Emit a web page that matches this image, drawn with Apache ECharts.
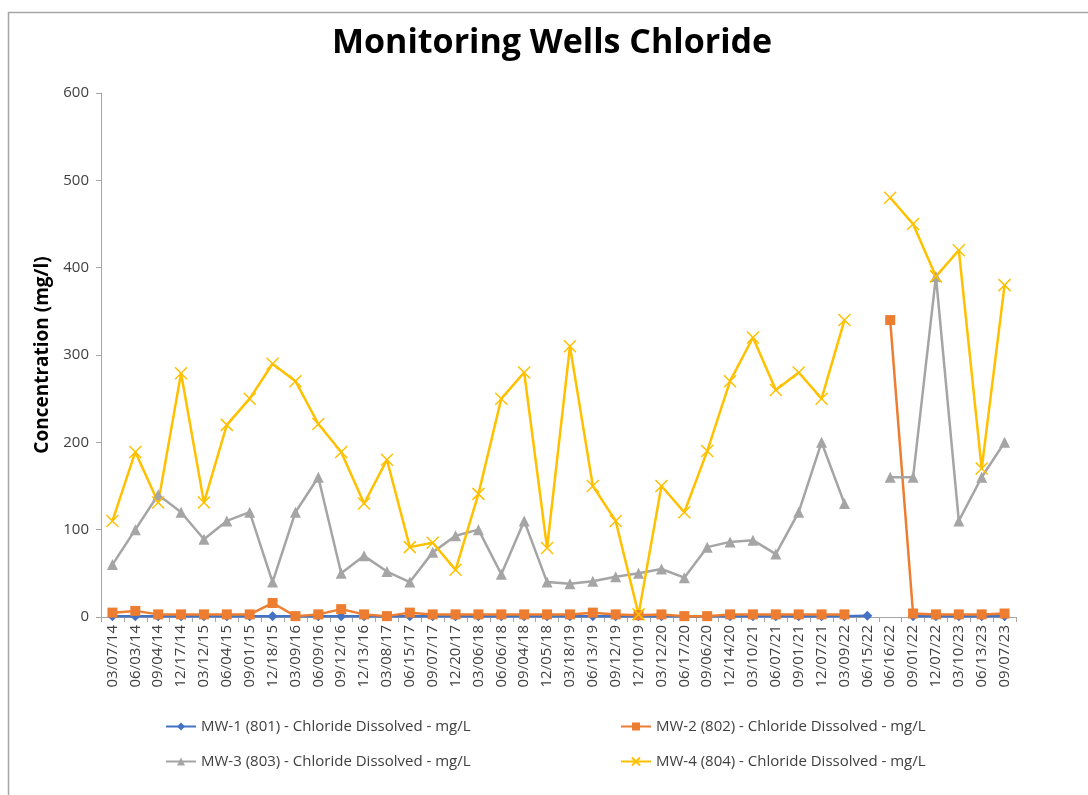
<!DOCTYPE html>
<html>
<head>
<meta charset="utf-8">
<script src="https://cdn.jsdelivr.net/npm/echarts@6/dist/echarts.min.js"></script>
<style>
html,body{margin:0;padding:0;background:#fff;}
#chart{width:1088px;height:795px;}
</style>
</head>
<body>
<div id="chart"></div>
<script>
const categories = ['03/07/14','06/03/14','09/04/14','12/17/14','03/12/15','06/04/15','09/01/15','12/18/15','03/09/16','06/09/16','09/12/16','12/13/16','03/08/17','06/15/17','09/07/17','12/20/17','03/06/18','06/06/18','09/04/18','12/05/18','03/18/19','06/13/19','09/12/19','12/10/19','03/12/20','06/17/20','09/06/20','12/14/20','03/10/21','06/07/21','09/01/21','12/07/21','03/09/22','06/15/22','06/16/22','09/01/22','12/07/22','03/10/23','06/13/23','09/07/23'];
const yTicks = [0,100,200,300,400,500,600];
const mw1 = [1,1,1,1,1,1,1,1,1,1,1,1,1,1,1,1,1,1,1,1,1,1,1,1,1,1,1,1,1,1,1,1,1,1.5,null,1,1,1,1,1];
const mw2 = [5,7,3,3,3,3,3,16,1,3,9,3,1,5,3,3,3,3,3,3,3,5,3,2,3,1,1,3,3,3,3,3,3,null,340,4,3,3,3,4];
const mw3 = [60,100,140,120,89,110,120,40,120,160,50,70,52,40,74,93,100,49,110,40,38,41,46,50,55,45,80,86,88,72,120,200,130,null,160,160,390,110,160,200];
const mw4 = [110,189,131,279,131,220,250,290,270,221,189,130,180,80,85,54,141,250,280,79,310,150,110,3,150,120,190,270,320,260,280,250,340,null,480,450,390,420,170,380];
const seriesNames = ['MW-1 (801) - Chloride Dissolved - mg/L','MW-2 (802) - Chloride Dissolved - mg/L','MW-3 (803) - Chloride Dissolved - mg/L','MW-4 (804) - Chloride Dissolved - mg/L'];

const FONT = '"Open Sans", sans-serif';
const chart = echarts.init(document.getElementById('chart'), null, {renderer:'canvas'});
const legendText = {fontFamily: FONT, fontSize: 15, color: '#404040'};
function mkLegend(name, left, top){
  return {data:[name], left:left, top:top, itemWidth:30, itemHeight:10, itemGap:4, textStyle:legendText, selectedMode:false, padding:0};
}
const xPath = 'path://M0,0 L10,10 M10,0 L0,10';
chart.setOption({
  animation:false,
  backgroundColor:'#fff',
  title:{text:'Monitoring Wells Chloride', left:332, top:26, padding:0,
    textStyle:{fontFamily:FONT, fontWeight:'bold', fontSize:34, color:'#000'}},
  graphic:[{type:'rect', left:6, top:10, shape:{width:1100, height:800}, style:{fill:'none', stroke:'#a6a6a6', lineWidth:1.5}, silent:true}],
  legend:[
    mkLegend(seriesNames[0], 165, 719),
    mkLegend(seriesNames[1], 620, 719),
    mkLegend(seriesNames[2], 165, 754),
    mkLegend(seriesNames[3], 620, 754)
  ],
  grid:{left:101, right:72, top:93, bottom:178, containLabel:false},
  xAxis:{type:'category', data:categories, boundaryGap:true,
    axisLine:{lineStyle:{color:'#a6a6a6', width:1}},
    axisTick:{show:true, length:5, lineStyle:{color:'#a6a6a6'}},
    axisLabel:{rotate:90, interval:0, margin:8, fontFamily:FONT, fontSize:15, color:'#404040'}},
  yAxis:{type:'value', min:yTicks[0], max:yTicks[yTicks.length-1], interval:100,
    name:'Concentration (mg/l)', nameLocation:'middle', nameGap:48,
    nameTextStyle:{fontFamily:FONT, fontWeight:'bold', fontSize:19, color:'#000'},
    axisLine:{show:true, lineStyle:{color:'#a6a6a6'}},
    axisTick:{show:true, length:5, lineStyle:{color:'#a6a6a6'}},
    splitLine:{show:false},
    axisLabel:{margin:12, fontFamily:FONT, fontSize:15, color:'#404040'}},
  series:[
    {name:seriesNames[0], type:'line', data:mw1, connectNulls:false, symbol:'diamond', symbolSize:10,
      itemStyle:{color:'#4472C4'}, lineStyle:{color:'#4472C4', width:2.5}},
    {name:seriesNames[1], type:'line', data:mw2, connectNulls:false, symbol:'rect', symbolSize:10,
      itemStyle:{color:'#ED7D31'}, lineStyle:{color:'#ED7D31', width:2.5}},
    {name:seriesNames[2], type:'line', data:mw3, connectNulls:false, symbol:'triangle', symbolSize:11,
      itemStyle:{color:'#A5A5A5'}, lineStyle:{color:'#A5A5A5', width:2.5}},
    {name:seriesNames[3], type:'line', data:mw4, connectNulls:false, symbol:xPath, symbolSize:12,
      itemStyle:{color:'#FFC000', borderColor:'#FFC000', borderWidth:1.5}, lineStyle:{color:'#FFC000', width:2.5}}
  ]
});
</script>
</body>
</html>
